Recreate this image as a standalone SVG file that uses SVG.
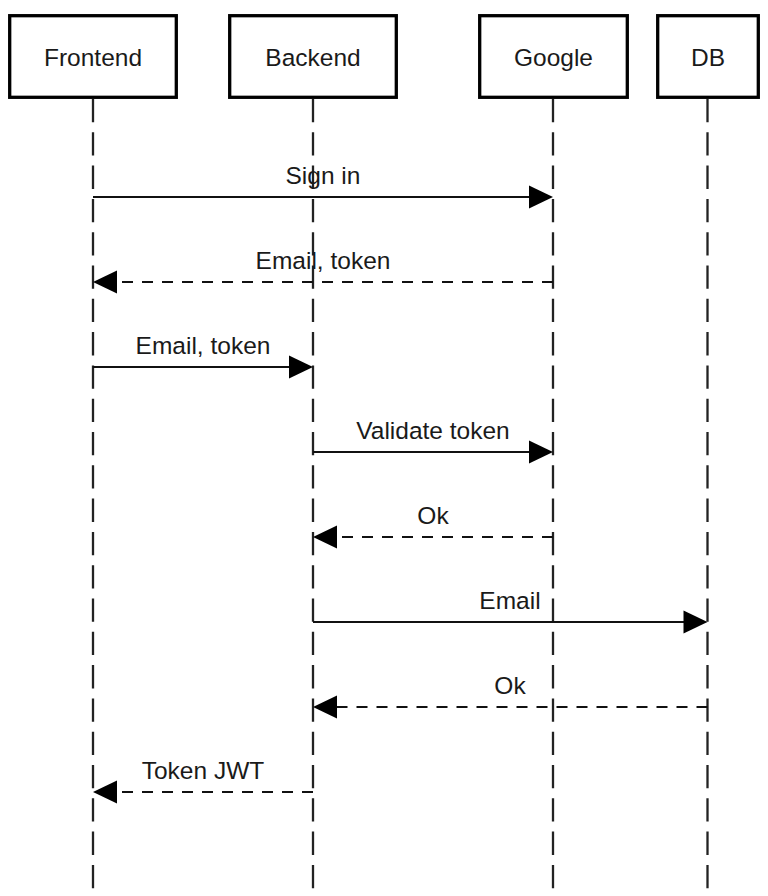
<svg xmlns="http://www.w3.org/2000/svg" width="768" height="896" viewBox="0 0 768 896">
<defs>
<style>
.box{fill:#fff;stroke:#000;stroke-width:3.3}
.lbl{font-family:"Liberation Sans",Arial,sans-serif;font-size:24.5px;fill:#1a1a1a;text-anchor:middle}
.life{stroke:#222;stroke-width:2.3;stroke-dasharray:23.3 10;fill:none}
.msg{stroke:#111;stroke-width:2.2;fill:none}
.ret{stroke:#111;stroke-width:2.2;fill:none;stroke-dasharray:11 9}
.head{fill:#000}
</style>
</defs>
<rect width="768" height="896" fill="#fff"/>
<g id="lifelines">
<line class="life" x1="93" y1="99" x2="93" y2="896"/>
<line class="life" x1="313" y1="99" x2="313" y2="896"/>
<line class="life" x1="553" y1="99" x2="553" y2="896"/>
<line class="life" x1="707.5" y1="99" x2="707.5" y2="896"/>
</g>
<g id="frontend"><rect class="box" x="9.7" y="15.7" width="166.6" height="81.6"/><text class="lbl" x="93" y="66">Frontend</text></g>
<g id="backend"><rect class="box" x="229.7" y="15.7" width="166.6" height="81.6"/><text class="lbl" x="313" y="66">Backend</text></g>
<g id="google"><rect class="box" x="479.7" y="15.7" width="147.6" height="81.6"/><text class="lbl" x="553.5" y="66">Google</text></g>
<g id="db"><rect class="box" x="657.7" y="15.7" width="100.6" height="81.6"/><text class="lbl" x="708" y="66">DB</text></g>
<g id="connectors">
<line class="msg" x1="93" y1="197" x2="531" y2="197"/>
<polygon class="head" points="553,197 529,185.5 529,208.5"/>
<text class="lbl" x="323" y="184">Sign in</text>

<line class="ret" x1="553" y1="282" x2="115" y2="282"/>
<polygon class="head" points="93,282 117,270.5 117,293.5"/>
<text class="lbl" x="323" y="269">Email, token</text>

<line class="msg" x1="93" y1="367" x2="291" y2="367"/>
<polygon class="head" points="313,367 289,355.5 289,378.5"/>
<text class="lbl" x="203" y="354">Email, token</text>

<line class="msg" x1="313" y1="452" x2="531" y2="452"/>
<polygon class="head" points="553,452 529,440.5 529,463.5"/>
<text class="lbl" x="433" y="439">Validate token</text>

<line class="ret" x1="553" y1="537" x2="335" y2="537"/>
<polygon class="head" points="313,537 337,525.5 337,548.5"/>
<text class="lbl" x="433" y="524">Ok</text>

<line class="msg" x1="313" y1="622" x2="685" y2="622"/>
<polygon class="head" points="707.5,622 683.5,610.5 683.5,633.5"/>
<text class="lbl" x="510" y="609">Email</text>

<line class="ret" x1="707.5" y1="707" x2="335" y2="707"/>
<polygon class="head" points="313,707 337,695.5 337,718.5"/>
<text class="lbl" x="510" y="694">Ok</text>

<line class="ret" x1="313" y1="792" x2="115" y2="792"/>
<polygon class="head" points="93,792 117,780.5 117,803.5"/>
<text class="lbl" x="203" y="779">Token JWT</text>
</g>
</svg>
